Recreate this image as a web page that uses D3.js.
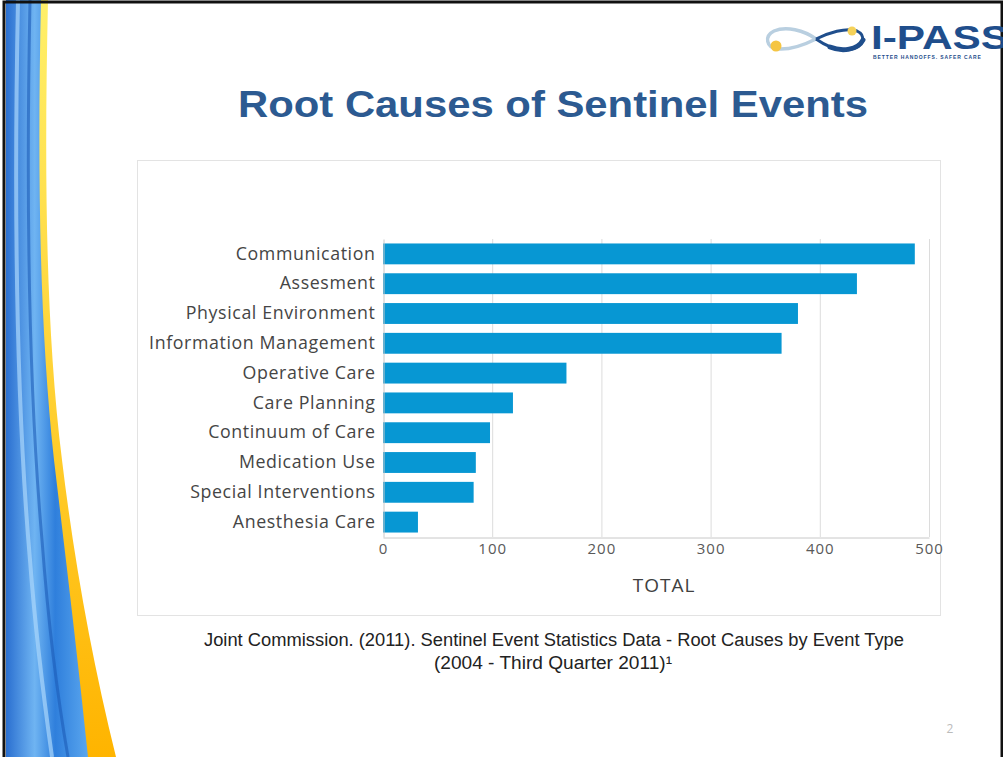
<!DOCTYPE html>
<html>
<head>
<meta charset="utf-8">
<script src="https://cdn.jsdelivr.net/npm/d3@7"></script>
<style>
  html, body { margin: 0; padding: 0; background: #fff; }
  svg { display: block; }
</style>
</head>
<body>
<svg id="chart" width="1003" height="757"></svg>
<script>
// chart data
const categories = ['Communication', 'Assesment', 'Physical Environment', 'Information Management',
  'Operative Care', 'Care Planning', 'Continuum of Care', 'Medication Use',
  'Special Interventions', 'Anesthesia Care'];
const totals = [487, 434, 380, 365, 168, 119, 98, 85, 83, 32];
const xTicks = [0, 100, 200, 300, 400, 500];

const svg = d3.select('#chart'),
  width = +svg.attr('width'),
  height = +svg.attr('height');

const defs = svg.append('defs');
const blueGrad = defs.append('linearGradient').attr('id', 'blueGrad')
  .attr('x1', '0').attr('x2', '1').attr('y1', '0').attr('y2', '0');
blueGrad.append('stop').attr('offset', '0%').attr('stop-color', '#2a6fd0');
blueGrad.append('stop').attr('offset', '35%').attr('stop-color', '#6fb4f2');
blueGrad.append('stop').attr('offset', '60%').attr('stop-color', '#2f7fdc');
blueGrad.append('stop').attr('offset', '100%').attr('stop-color', '#5aa6ee');
const yellowGrad = defs.append('linearGradient').attr('id', 'yellowGrad')
  .attr('x1', '0').attr('x2', '0').attr('y1', '0').attr('y2', '1');
yellowGrad.append('stop').attr('offset', '0%').attr('stop-color', '#fff06a');
yellowGrad.append('stop').attr('offset', '100%').attr('stop-color', '#ffb400');

// left decorative swoosh
svg.append('path')
  .attr('d', 'M6,0 L48,0 C44,180 46,330 62,460 C74,560 92,660 116,757 L6,757 Z')
  .attr('fill', 'url(#yellowGrad)');
svg.append('path')
  .attr('d', 'M6,0 L41,0 C37,180 40,330 54,460 C66,560 78,660 88,757 L6,757 Z')
  .attr('fill', 'url(#blueGrad)');
svg.append('path')
  .attr('d', 'M18,0 C14,200 16,400 30,560 C36,640 44,700 52,757')
  .attr('fill', 'none').attr('stroke', '#a9d6fb').attr('stroke-width', 4).attr('opacity', 0.7);
svg.append('path')
  .attr('d', 'M30,0 C26,200 28,380 42,540 C48,620 58,700 68,757')
  .attr('fill', 'none').attr('stroke', '#1d5cb8').attr('stroke-width', 3).attr('opacity', 0.6);

// frame
svg.append('rect').attr('x', 4).attr('y', 2).attr('width', width - 5).attr('height', height)
  .attr('fill', 'none').attr('stroke', '#111').attr('stroke-width', 3);

// logo: infinity ribbon + wordmark
const logo = svg.append('g');
logo.append('path')
  .attr('d', 'M816,39 C804,30 786,26 774,31 C764,36 766,48 778,49 C792,50 806,44 816,39')
  .attr('fill', 'none').attr('stroke', '#b9cfe0').attr('stroke-width', 3.5);
logo.append('path')
  .attr('d', 'M816,39 C828,33 846,27 857,31 C866,35 864,46 852,49 C840,52 826,46 816,39')
  .attr('fill', 'none').attr('stroke', '#1f4e8c').attr('stroke-width', 3);
logo.append('path')
  .attr('d', 'M830,47 C842,52 858,50 863,40')
  .attr('fill', 'none').attr('stroke', '#1f4e8c').attr('stroke-width', 5).attr('stroke-linecap', 'round');
logo.append('circle').attr('cx', 776).attr('cy', 46).attr('r', 5.5).attr('fill', '#f5c542');
logo.append('circle').attr('cx', 852).attr('cy', 31).attr('r', 4.5).attr('fill', '#f5d25a');
logo.append('text').attr('x', 871).attr('y', 49)
  .attr('font-family', 'Liberation Sans, Arial, sans-serif').attr('font-weight', 'bold')
  .attr('font-size', 33).attr('fill', '#1f4e8c')
  .attr('textLength', 138).attr('lengthAdjust', 'spacingAndGlyphs')
  .text('I-PASS');
logo.append('text').attr('x', 873).attr('y', 59)
  .attr('font-family', 'Liberation Sans, Arial, sans-serif').attr('font-weight', 'bold')
  .attr('font-size', 5).attr('fill', '#1f4e8c').attr('letter-spacing', 0.9)
  .text('BETTER HANDOFFS. SAFER CARE');

// title
svg.append('text').attr('x', 553).attr('y', 117).attr('text-anchor', 'middle')
  .attr('font-family', 'Liberation Sans, Arial, sans-serif').attr('font-weight', 'bold')
  .attr('font-size', 37).attr('fill', '#2c5a91')
  .attr('textLength', 630).attr('lengthAdjust', 'spacingAndGlyphs')
  .text('Root Causes of Sentinel Events');

// chart box
svg.append('rect').attr('x', 137.5).attr('y', 160.5).attr('width', 803).attr('height', 455)
  .attr('fill', '#fff').attr('stroke', '#e3e3e3');

const x = d3.scaleLinear().domain([0, 500]).range([383, 929]);
const y = d3.scaleBand().domain(categories).range([239, 537])
  .paddingInner(0.3).paddingOuter(0.15);

// gridlines
svg.append('g').selectAll('line').data(xTicks.slice(1)).join('line')
  .attr('x1', d => x(d) + 0.5).attr('x2', d => x(d) + 0.5)
  .attr('y1', 239).attr('y2', 537)
  .attr('stroke', '#dcdcdc');

// bars
svg.append('g').selectAll('rect').data(totals).join('rect')
  .attr('x', x(0))
  .attr('y', (d, i) => y(categories[i]))
  .attr('width', d => x(d) - x(0))
  .attr('height', y.bandwidth())
  .attr('fill', '#0797d3');

// x axis
const xAxis = svg.append('g').attr('transform', 'translate(0,537.5)')
  .call(d3.axisBottom(x).tickValues(xTicks).tickSize(0).tickPadding(6));
xAxis.select('.domain').attr('stroke', '#c8c8c8');
xAxis.selectAll('text').attr('font-family', 'Open Sans, sans-serif')
  .attr('font-size', 15).attr('letter-spacing', 1).attr('fill', '#595959');

// y axis
const yAxis = svg.append('g').attr('transform', 'translate(383.5,0)')
  .call(d3.axisLeft(y).tickSize(0).tickPadding(8));
yAxis.select('.domain').attr('stroke', '#c8c8c8');
yAxis.selectAll('text').attr('font-family', 'Open Sans, sans-serif')
  .attr('font-size', 17.8).attr('letter-spacing', 0.6).attr('fill', '#454545');

svg.append('text').attr('x', 664).attr('y', 592).attr('text-anchor', 'middle')
  .attr('font-family', 'Open Sans, sans-serif').attr('font-size', 19).attr('letter-spacing', 1)
  .attr('fill', '#404040')
  .text('TOTAL');

// citation
svg.append('text').attr('x', 554).attr('y', 646).attr('text-anchor', 'middle')
  .attr('font-family', 'Liberation Sans Narrow, Liberation Sans, Arial, sans-serif')
  .attr('font-size', 18).attr('fill', '#222')
  .attr('textLength', 700).attr('lengthAdjust', 'spacingAndGlyphs')
  .text('Joint Commission. (2011). Sentinel Event Statistics Data - Root Causes by Event Type');
svg.append('text').attr('x', 553).attr('y', 669).attr('text-anchor', 'middle')
  .attr('font-family', 'Liberation Sans Narrow, Liberation Sans, Arial, sans-serif')
  .attr('font-size', 18).attr('fill', '#222')
  .attr('textLength', 238).attr('lengthAdjust', 'spacingAndGlyphs')
  .text('(2004 - Third Quarter 2011)¹');

// page number
svg.append('text').attr('x', 950).attr('y', 733).attr('text-anchor', 'middle')
  .attr('font-family', 'Open Sans, sans-serif').attr('font-size', 12).attr('fill', '#bbb')
  .text('2');
</script>
</body>
</html>
